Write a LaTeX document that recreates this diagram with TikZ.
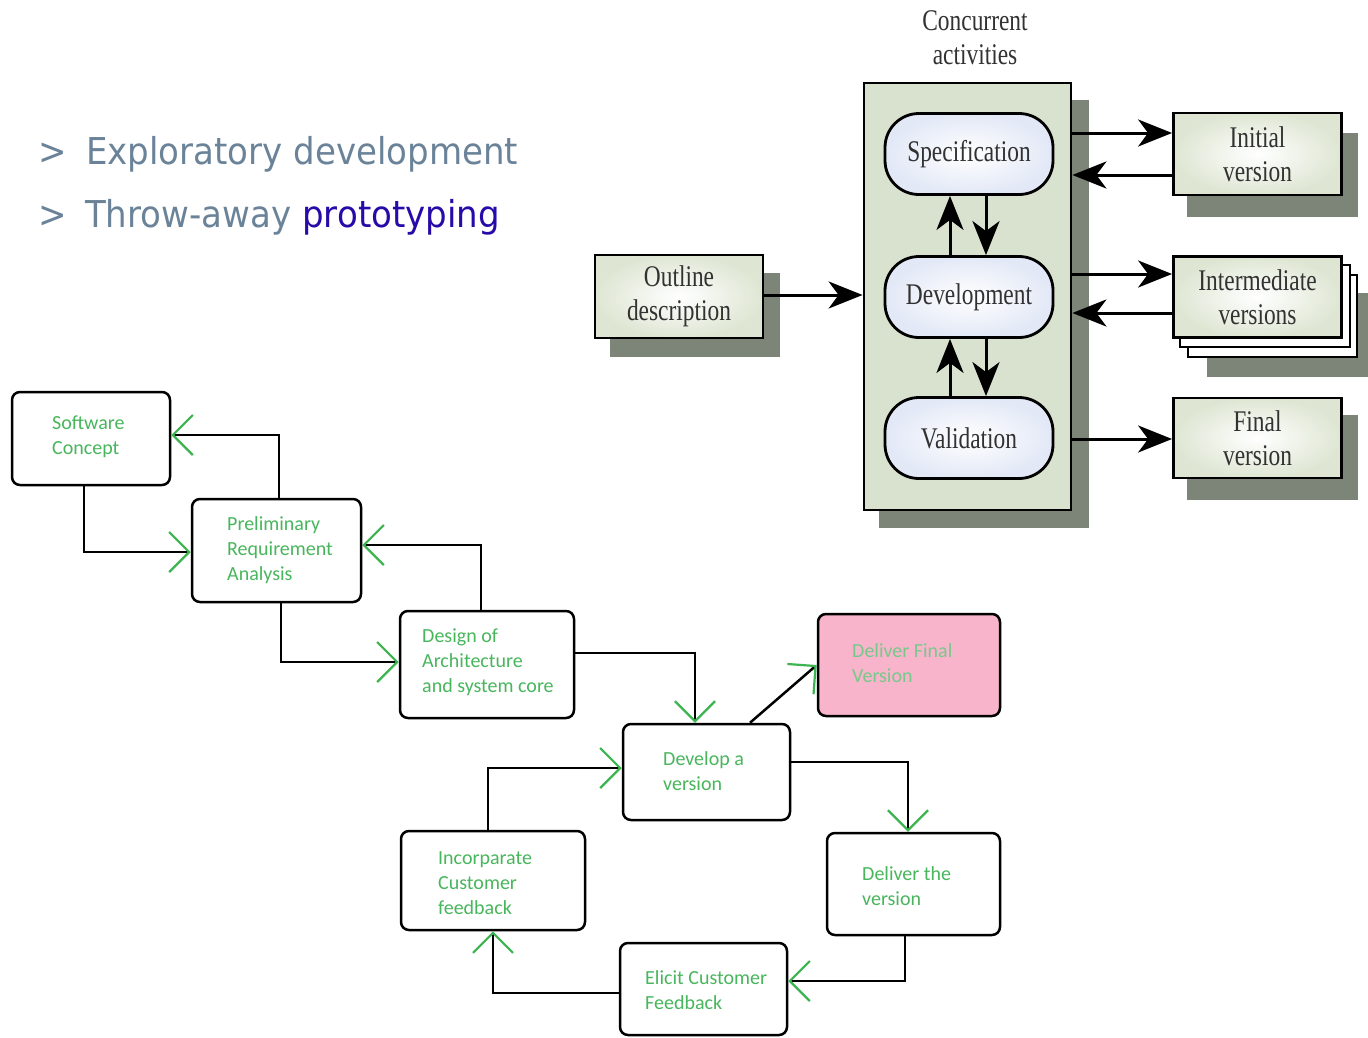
\documentclass[tikz,border=0pt]{standalone}
\usepackage{fontspec}
\usetikzlibrary{arrows.meta,calc}
\newfontfamily\slidefont[FakeStretch=0.92]{DejaVu Sans}
\newfontfamily\bookfont[FakeStretch=0.78]{Liberation Serif}
\newfontfamily\notefont{Carlito}
\definecolor{slategray}{RGB}{107,131,153}
\definecolor{protoblue}{RGB}{40,10,168}
\definecolor{sagefill}{RGB}{216,226,206}
\definecolor{shadowgray}{RGB}{125,133,120}
\definecolor{boxedge}{RGB}{222,230,211}
\definecolor{pilledge}{RGB}{226,232,246}
\definecolor{serifgray}{RGB}{50,50,50}
\definecolor{txtgreen}{RGB}{72,182,92}
\definecolor{lightgreen}{RGB}{120,200,140}
\definecolor{arrowgreen}{RGB}{60,180,80}
\definecolor{pinkfill}{RGB}{247,180,203}
\begin{document}
\begin{tikzpicture}[x=1pt,y=-1pt,
  shadowrect/.style={fill=shadowgray,draw=none},
  serif/.style={font=\bookfont\fontsize{30}{34}\selectfont,text=serifgray,align=center},
  vbox/.style={serif,draw=black,line width=2.8pt,inner color=white,outer color=boxedge,
    inner sep=0pt,minimum width=168pt,minimum height=82pt},
  pill/.style={serif,draw=black,line width=2.8pt,rounded corners=34pt,inner color=white,
    outer color=pilledge,inner sep=0pt,minimum width=168pt,minimum height=81pt},
  barrow/.style={line width=3pt,-{Stealth[length=34pt,width=27pt,inset=10pt]}},
  gbox/.style={draw=black,line width=2.5pt,rounded corners=8pt,fill=white,inner sep=0pt},
  gtext/.style={font=\notefont\fontsize{20}{25}\selectfont,text=txtgreen,align=left,
    anchor=west,inner sep=0pt},
  gline/.style={line width=2.5pt,
    -{Straight Barb[length=20pt,width=40pt,line width=2.2pt,color=arrowgreen]}},
  slide/.style={font=\slidefont\fontsize{37}{44}\selectfont,text=slategray,
    anchor=base west,inner sep=0pt}
]
\useasboundingbox (0,0) rectangle (1368,1037);
\fill[white] (0,0) rectangle (1368,1037);

% ---------- bullet list ----------
\node[slide] (b1) at (38,164) {>};
\node[slide] (t1) at (86,164) {Exploratory development};
\node[slide] (b2) at (38,227) {>};
\node[slide] (t2) at (85,227) {Throw-away {\color{protoblue}prototyping}};

% ---------- evolutionary development model ----------
\node[serif,inner sep=0pt] (conc) at (975,38) {Concurrent\\activities};

% container of the concurrent activities
\fill[shadowrect] (879,100) rectangle (1089,528);
\node[draw=black,line width=2.8pt,fill=sagefill,minimum width=207pt,minimum height=427pt,
  inner sep=0pt] (ct) at (967.5,296.5) {};

\node[pill] (spec) at (969,154) {Specification};
\node[pill] (dev)  at (969,297) {Development};
\node[pill] (val)  at (969,438) {Validation};

% outline description
\fill[shadowrect] (610,273) rectangle (780,357);
\node[vbox,minimum height=83pt] (out) at (679,296.5) {Outline\\description};

% output versions
\fill[shadowrect] (1187,133) rectangle (1358,217);
\node[vbox] (ini) at (1257.5,154) {Initial\\version};

\fill[shadowrect] (1207,293) rectangle (1368,377);
\draw[line width=2.8pt,fill=white] (1188,275) rectangle (1357,357);
\draw[line width=2.8pt,fill=white] (1180,265) rectangle (1350,347);
\node[vbox,minimum height=81pt] (mid) at (1257.5,297) {Intermediate\\versions};

\fill[shadowrect] (1187,415) rectangle (1358,500);
\node[vbox,minimum height=80pt] (fin) at (1257.5,438) {Final\\version};

% flows
\draw[barrow] (out.east |- 0,295) -- (ct.west |- 0,295);
\draw[barrow] (950,0 |- dev.north) -- (950,0 |- spec.south);
\draw[barrow] (986,0 |- spec.south) -- (986,0 |- dev.north);
\draw[barrow] (950,0 |- val.north) -- (950,0 |- dev.south);
\draw[barrow] (986,0 |- dev.south) -- (986,0 |- val.north);
\draw[barrow] (ct.east |- 0,133) -- (ini.west |- 0,133);
\draw[barrow] (ini.west |- 0,175) -- (ct.east |- 0,175);
\draw[barrow] (ct.east |- 0,274) -- (mid.west |- 0,274);
\draw[barrow] (mid.west |- 0,313) -- (ct.east |- 0,313);
\draw[barrow] (ct.east |- 0,439) -- (fin.west |- 0,439);

% ---------- evolutionary process flow ----------
\node[gbox,minimum width=158pt,minimum height=93pt] (sc) at (91,438.5) {};
\node[gtext] (sct) at (52,437) {Software\\Concept};

\node[gbox,minimum width=169pt,minimum height=103pt] (pr) at (276.5,550.5) {};
\node[gtext] (prt) at (227,550) {Preliminary\\Requirement\\Analysis};

\node[gbox,minimum width=174pt,minimum height=107pt] (de) at (487,664.5) {};
\node[gtext] (det) at (422,662) {Design of\\Architecture\\and system core};

\node[gbox,minimum width=167pt,minimum height=96pt] (dv) at (706.5,772) {};
\node[gtext] (dvt) at (663,771.5) {Develop a\\version};

\node[gbox,fill=pinkfill,minimum width=182pt,minimum height=102pt] (df) at (909,665) {};
\node[gtext,text=lightgreen] (dft) at (852,663.5) {Deliver Final\\Version};

\node[gbox,minimum width=184pt,minimum height=99pt] (ic) at (493,880.5) {};
\node[gtext] (ict) at (438,883) {Incorparate\\Customer\\feedback};

\node[gbox,minimum width=173pt,minimum height=102pt] (dl) at (913.5,884) {};
\node[gtext] (dlt) at (862,886.5) {Deliver the\\version};

\node[gbox,minimum width=167pt,minimum height=92pt] (el) at (703.5,989) {};
\node[gtext] (elt) at (645,990.5) {Elicit Customer\\Feedback};

\draw[gline] (279,0 |- pr.north) |- (sc.east |- 0,435);
\draw[gline] (84,0 |- sc.south) |- (pr.west |- 0,552);
\draw[gline] (481,0 |- de.north) |- (pr.east |- 0,545);
\draw[gline] (281,0 |- pr.south) |- (de.west |- 0,662);
\draw[gline] (de.east |- 0,653) -| (695,0 |- dv.north);
\draw[gline] (750,0 |- dv.north) -- (df.west |- 0,665);
\draw[gline] (dv.east |- 0,762) -| (908,0 |- dl.north);
\draw[gline] (905,0 |- dl.south) |- (el.east |- 0,981);
\draw[gline] (el.west |- 0,993) -| (493,0 |- ic.south);
\draw[gline] (488,0 |- ic.north) |- (dv.west |- 0,768);
\end{tikzpicture}
\end{document}
